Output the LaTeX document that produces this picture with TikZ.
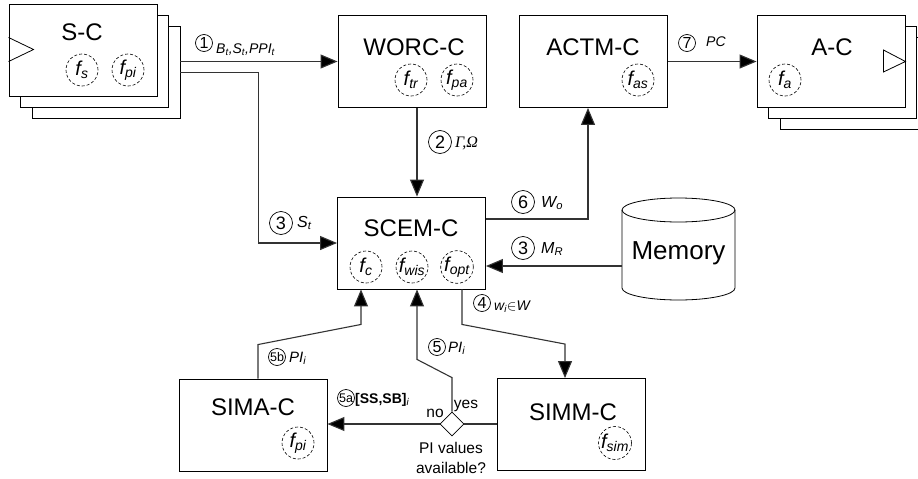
\documentclass[tikz,border=0pt]{standalone}
\usepackage{fontspec}
\setmainfont{Liberation Sans}
\newfontfamily\greekit{Liberation Serif}
\usetikzlibrary{arrows.meta,calc,shapes.geometric}

\begin{document}
\begin{tikzpicture}[x=1pt,y=-1pt,
  box/.style={draw, fill=white, line width=0.9pt, minimum width=148pt, minimum height=92pt, inner sep=0pt},
  title/.style={font=\fontsize{24}{24}\selectfont, inner sep=0pt},
  fn/.style={circle, draw, dash pattern=on 3pt off 2pt, line width=0.6pt, minimum size=32pt, inner sep=0pt, font=\fontsize{20}{20}\selectfont\itshape},
  num/.style={circle, draw, line width=0.7pt, minimum size=17pt, inner sep=0pt, font=\fontsize{16}{16}\selectfont},
  bignum/.style={num, minimum size=23pt, font=\fontsize{18}{18}\selectfont},
  smallnum/.style={num, font=\fontsize{12.5}{12.5}\selectfont},
  lbl/.style={font=\fontsize{14}{14}\selectfont\itshape, anchor=base west, inner sep=0pt},
  biglbl/.style={lbl, font=\fontsize{16}{16}\selectfont\itshape},
  plain/.style={font=\fontsize{15.5}{15.5}\selectfont, anchor=base, inner sep=0pt},
  conn/.style={line width=1.1pt, draw=black!80},
  arr/.style={conn, -{Triangle[length=17pt,width=14pt,fill=black]}},
]
\fill[white] (0,0) rectangle (918,479);
\useasboundingbox (0,0) rectangle (918,479);

% sensor component stack
\node[box] (sc3) at (106,72.5) {};
\node[box] (sc2) at (94.5,61.5) {};
\node[box] (sc) at (83,50.5) {};
\draw[line width=0.8pt] ($(sc.west)+(0,-13)$) -- ($(sc.west)+(25,-1)$) -- ($(sc.west)+(0,11)$);
\node[title] (sct) at (82,32) {S-C};
\node[fn] (fs) at (82,70) {f\textsubscript{s}};
\node[fn] (fpis) at (128,70) {f\textsubscript{pi}};

% world-observation component
\node[box] (worc) at (412,61.5) {};
\node[title] (worct) at (414,47) {WORC-C};
\node[fn] (ftr) at (411,80) {f\textsubscript{tr}};
\node[fn] (fpa) at (457,80) {f\textsubscript{pa}};

% actuator management component
\node[box] (actm) at (593.5,61.5) {};
\node[title] (actmt) at (593,47) {ACTM-C};
\node[fn] (fas) at (638,80) {f\textsubscript{as}};

% actuator component stack
\node[box] (ac3) at (854,83.5) {};
\node[box] (ac2) at (842.5,72.5) {};
\node[box] (ac) at (831,61.5) {};
\draw[line width=0.8pt] ($(ac.east)+(-22,-11.5)$) -- (ac.east) -- ($(ac.east)+(-22,10.5)$) -- cycle;
\node[title] (act) at (832,47) {A-C};
\node[fn] (fa) at (785,80) {f\textsubscript{a}};

% central controller
\node[box] (scem) at (411.5,243) {};
\node[title] (scemt) at (411,228) {SCEM-C};
\node[fn] (fc) at (366,267) {f\textsubscript{c}};
\node[fn] (fwis) at (412,267) {f\textsubscript{wis}};
\node[fn] (fopt) at (457,267) {f\textsubscript{opt}};

% memory store
\node[minimum width=113pt, minimum height=102pt, inner sep=0pt] (mem) at (678.5,249) {};
\filldraw[fill=white, line width=0.8pt] (622,210) -- (622,288) arc (180:0:56.5 and 12) -- (735,210) arc (0:-180:56.5 and 12) -- cycle;
\draw[line width=0.8pt] (622,210) arc (180:0:56.5 and 12);
\node[title, font=\fontsize{26}{26}\selectfont] (memt) at (678.5,253) {Memory};

% simulation components
\node[box] (simm) at (571,424.5) {};
\node[title] (simmt) at (573,412) {SIMM-C};
\node[fn] (fsim) at (615,443) {f\textsubscript{sim}};
\node[box] (sima) at (253,425) {};
\node[title] (simat) at (253,407) {SIMA-C};
\node[fn] (fpia) at (298,443) {f\textsubscript{pi}};

\node[diamond, draw, fill=white, line width=0.8pt, minimum size=24pt, inner sep=0pt] (dia) at (452,424) {};

% connectors
\coordinate (o1) at ($(sc3.east)+(0,-11)$);
\draw[arr] (o1) -- (o1 -| worc.west);
\draw[arr] (sc3.east) -- ++(78,0) |- (scem.west);
\draw[arr] ($(worc.south)+(5,0)$) -- ($(scem.north)+(5.5,0)$);
\draw[arr] ($(scem.east)+(0,-24)$) -| ($(actm.south)+(-5.5,0)$);
\draw[arr] (actm.east) -- (ac.west);
\coordinate (memin) at ($(mem.west)+(0,17)$);
\draw[arr] (memin) -- (memin -| scem.east);
\coordinate (s4) at ($(scem.south)+(50.5,0)$);
\coordinate (e4) at ($(simm.north)+(-6,0)$);
\draw[arr] (s4) -- ++(0,35) -- ($(e4)+(0,-34)$) -- (e4);
\draw[arr] (dia.north) -- ++(0,-34) -- ($(scem.south)+(5.5,70)$) -- ($(scem.south)+(5.5,0)$);
\draw[arr] ($(sima.north)+(5,0)$) -- ++(0,-34) -- ($(scem.south)+(-50.5,35)$) -- ($(scem.south)+(-50.5,0)$);
\draw[arr] (dia.west) -- (dia.west -| sima.east);
\draw[conn] (dia.east) -- (dia.east -| simm.west);

% connector labels
\node[num] (n1) at (204,43) {1};
\node[lbl] (l1) at (216,53) {B\textsubscript{t},S\textsubscript{t},PPI\textsubscript{t}};
\node[bignum] (n2) at (440,142) {2};
\node[biglbl] (l2) at (455,147) {{\greekit\itshape Γ,Ω}};
\node[bignum] (n3a) at (281,223) {3};
\node[biglbl] (l3a) at (297,227) {S\textsubscript{t}};
\node[bignum] (n6) at (523,202) {6};
\node[biglbl] (l6) at (541,207) {W\textsubscript{o}};
\node[bignum] (n3b) at (523,248) {3};
\node[biglbl] (l3b) at (541,253) {M\textsubscript{R}};
\node[num] (n7) at (687,43) {7};
\node[lbl] (l7) at (706,46) {PC};
\node[num] (n4) at (482,303) {4};
\node[lbl] (l4) at (494,310) {w\textsubscript{i}$\in$W};
\node[num] (n5) at (437,347) {5};
\node[lbl, font=\fontsize{15}{15}\selectfont\itshape] (l5) at (448,352) {PI\textsubscript{i}};
\node[smallnum] (n5b) at (277,357) {5b};
\node[lbl, font=\fontsize{15}{15}\selectfont\itshape] (l5b) at (289,362) {PI\textsubscript{i}};
\node[smallnum] (n5a) at (346,398) {5a};
\node[lbl, font=\fontsize{14}{14}\selectfont] (l5a) at (355,403) {\textbf{[SS,SB]}\textsubscript{\itshape i}};
\node[plain] (no) at (435,417) {no};
\node[plain] (yes) at (466,408) {yes};
\node[plain] (q1) at (451,453) {PI values};
\node[plain] (q2) at (451,473) {available?};
\end{tikzpicture}
\end{document}
